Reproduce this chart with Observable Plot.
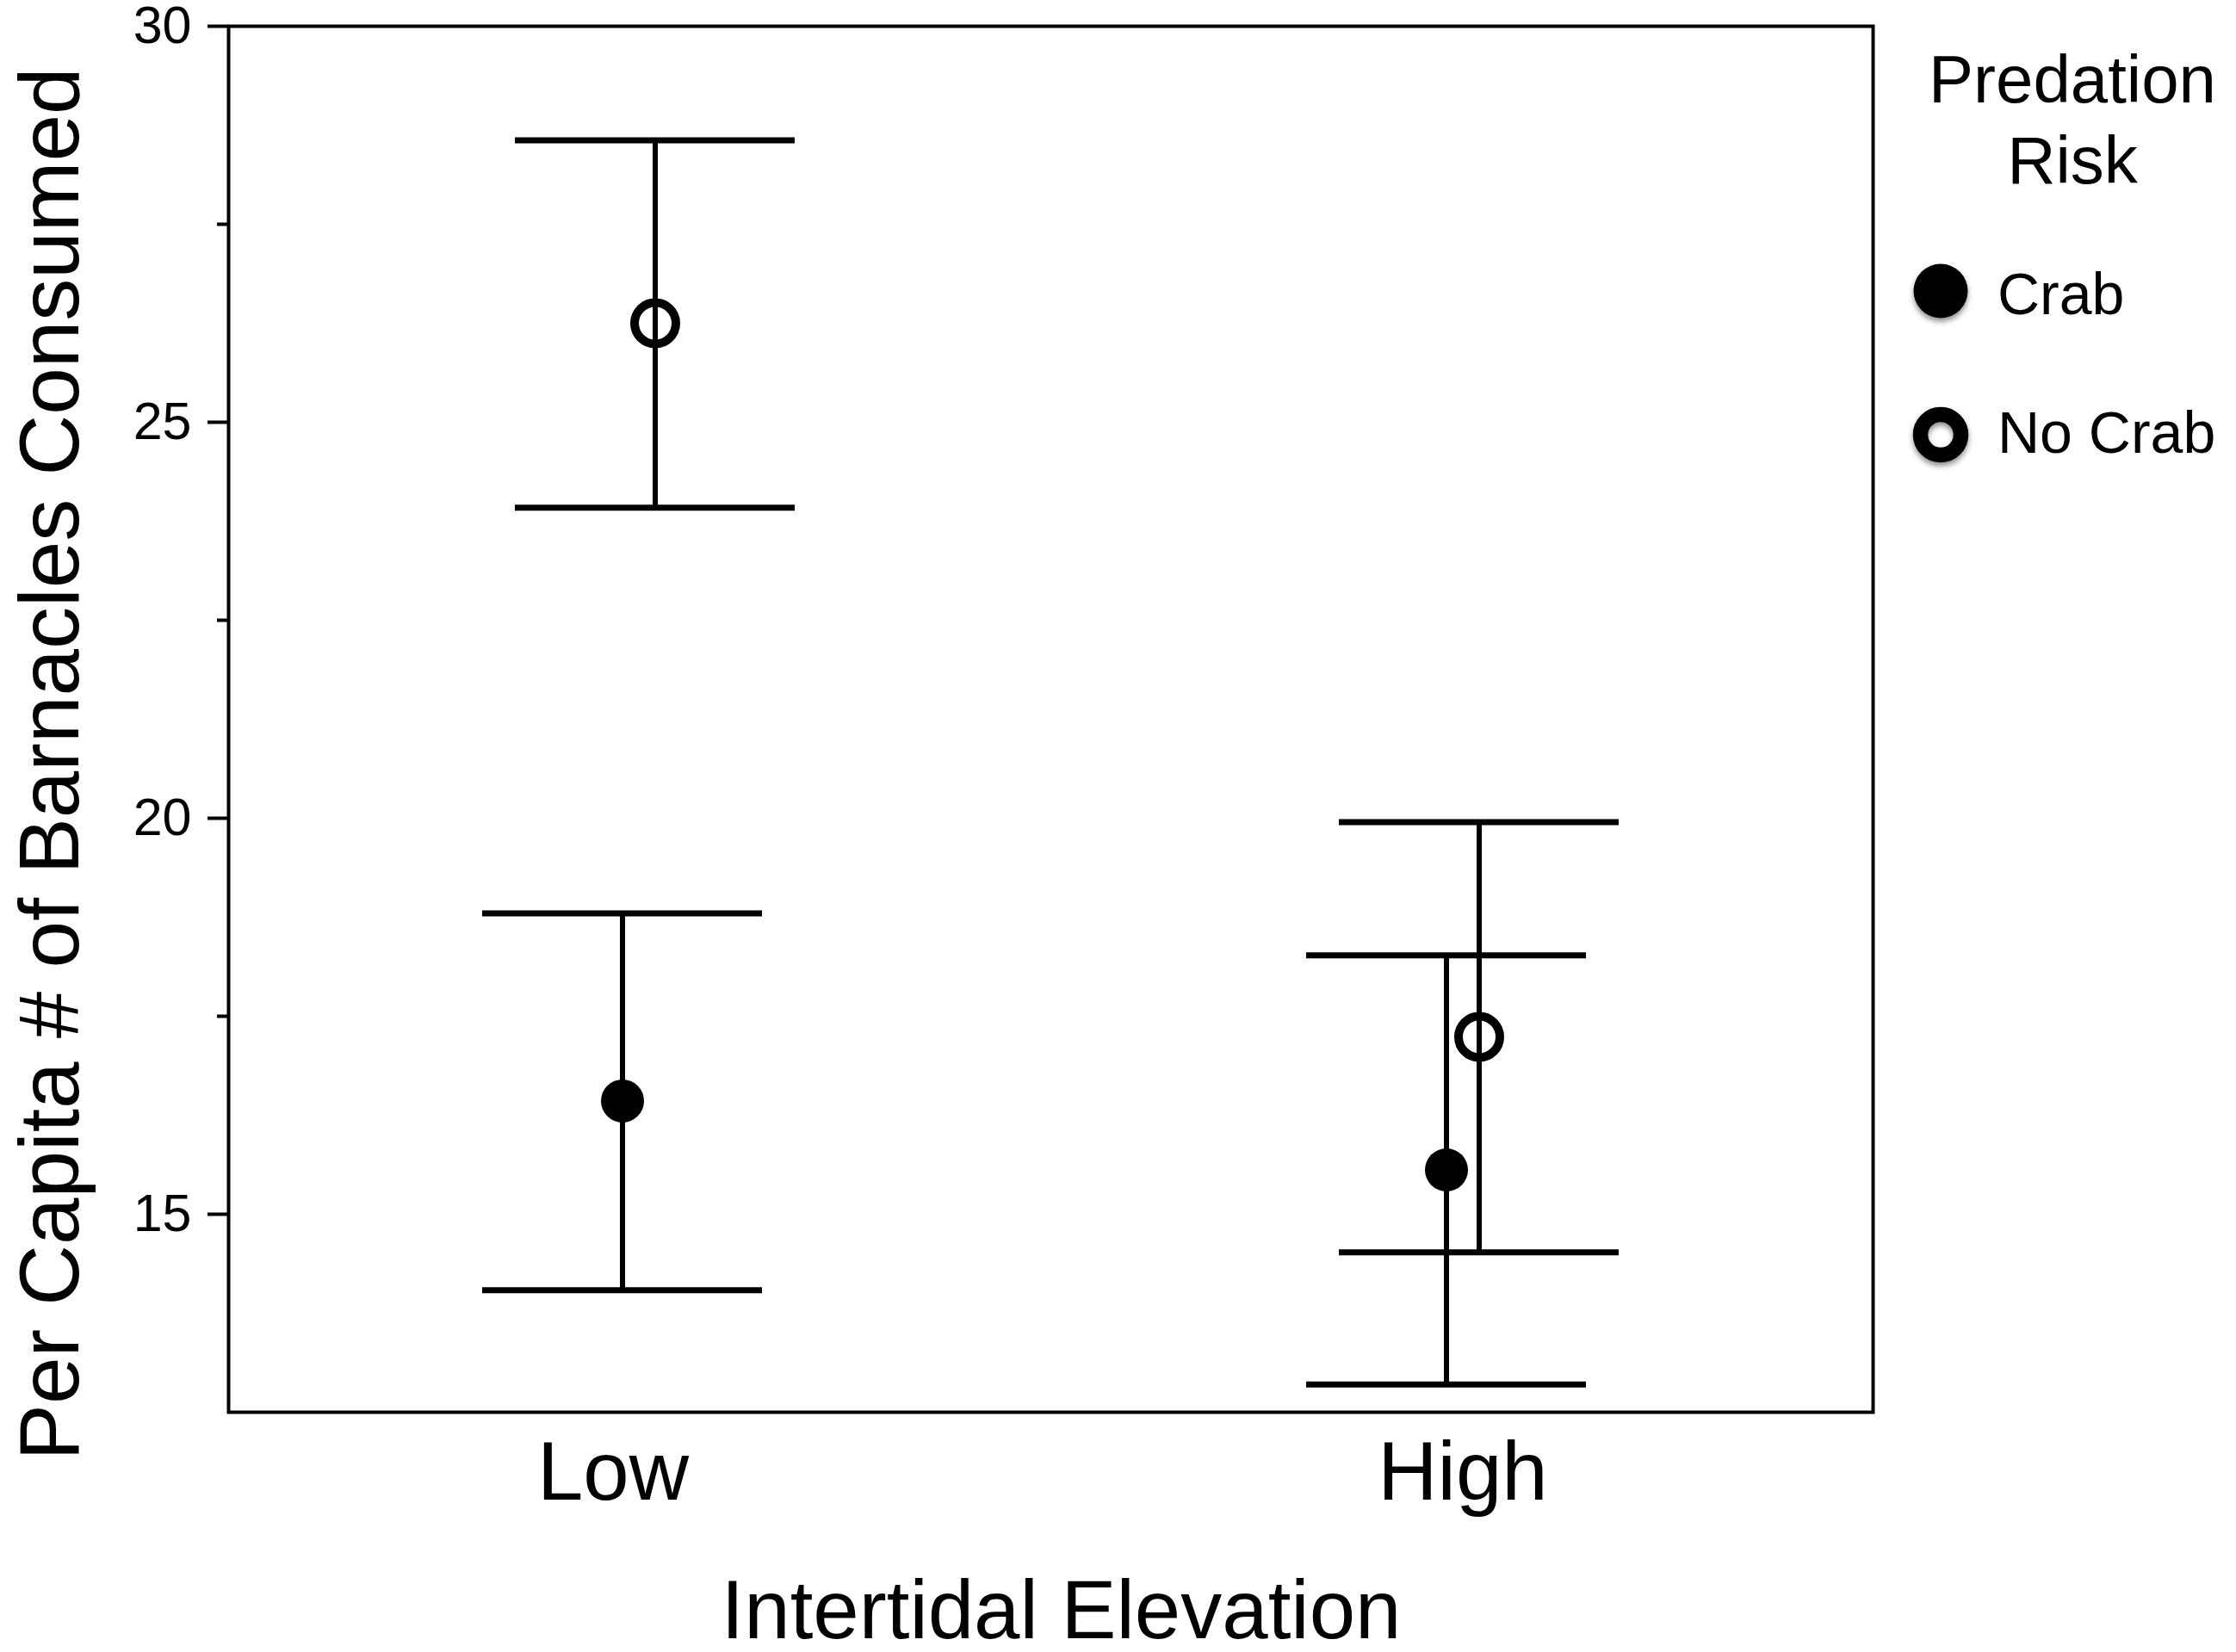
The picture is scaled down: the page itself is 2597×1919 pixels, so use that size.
<!DOCTYPE html>
<html>
<head>
<meta charset="utf-8">
<script src="https://cdn.jsdelivr.net/npm/d3@7"></script>
<script src="https://cdn.jsdelivr.net/npm/@observablehq/plot@0.6"></script>
<style>
  html, body { margin: 0; padding: 0; background: #fff; }
  #wrap { position: relative; width: 2597px; height: 1919px; font-family: "Liberation Sans", Arial, Helvetica, sans-serif; }
  #legend { position: absolute; left: 0; top: 0; pointer-events: none; }
</style>
</head>
<body>
<div id="wrap"></div>
<script>
// ---- data ----
const elevations = ["Low", "High"];
const risks = ["Crab", "No Crab"];
const crabMean  = [16.43, 15.56];
const crabLower = [14.04, 12.85];
const crabUpper = [18.80, 18.27];
const noCrabMean  = [26.25, 17.24];
const noCrabLower = [23.92, 14.52];
const noCrabUpper = [28.56, 19.95];
const yMajorTicks = [15, 20, 25, 30];
const yMinorTicks = [17.5, 22.5, 27.5];
const xTitle = "Intertidal Elevation";
const yTitle = "Per Capita # of Barnacles Consumed";
const legendTitle = ["Predation", "Risk"];

const rows = elevations.flatMap((e, i) => [
  {elev: e, risk: "Crab", mean: crabMean[i], lo: crabLower[i], hi: crabUpper[i]},
  {elev: e, risk: "No Crab", mean: noCrabMean[i], lo: noCrabLower[i], hi: noCrabUpper[i]}
]);

const font = "'Liberation Sans', Arial, Helvetica, sans-serif";
const marks = [];
for (const r of risks) {
  const sub = rows.filter(d => d.risk === r);
  const dx = r === "Crab" ? -19 : 19;
  marks.push(Plot.ruleX(sub, {x: "elev", y1: "lo", y2: "hi", dx, stroke: "black", strokeWidth: 6}));
  marks.push(Plot.tickY(sub, {x: "elev", y: "hi", dx, stroke: "black", strokeWidth: 7}));
  marks.push(Plot.tickY(sub, {x: "elev", y: "lo", dx, stroke: "black", strokeWidth: 7}));
  if (r === "Crab") {
    marks.push(Plot.dot(sub, {x: "elev", y: "mean", dx, r: 25, fill: "black", stroke: "none"}));
  } else {
    marks.push(Plot.dot(sub, {x: "elev", y: "mean", dx, r: 24, fill: "none", stroke: "black", strokeWidth: 10}));
  }
}

const chart = Plot.plot({
  width: 2597,
  height: 1919,
  marginLeft: 265,
  marginRight: 422,
  marginTop: 30,
  marginBottom: 279,
  style: {fontFamily: font, background: "white", color: "black", overflow: "visible"},
  x: {type: "band", domain: elevations, paddingInner: 0.66, paddingOuter: 0.327},
  y: {domain: [12.5, 30]},
  marks: [
    Plot.axisY({ticks: yMajorTicks, tickSize: 24, tickPadding: 19, fontSize: 61, strokeWidth: 4, label: null, stroke: "black", fill: "black"}),
    Plot.axisY({ticks: yMinorTicks, tickSize: 13, strokeWidth: 4, tickFormat: () => "", label: null, stroke: "black"}),
    Plot.axisX({ticks: [elevations[0]], tickSize: 0, tickPadding: 33, fontSize: 96, label: null, fill: "black", dx: -30}),
    Plot.axisX({ticks: [elevations[1]], tickSize: 0, tickPadding: 33, fontSize: 96, label: null, fill: "black"}),
    ...marks,
    Plot.frame({stroke: "black", strokeWidth: 4}),
    Plot.text([xTitle], {text: d => d, frameAnchor: "bottom", dy: 232, dx: 12, fontSize: 96, lineAnchor: "middle", textAnchor: "middle", fill: "black"}),
    Plot.text([yTitle], {text: d => d, frameAnchor: "left", rotate: -90, dx: -206, dy: 52, fontSize: 98, lineAnchor: "middle", textAnchor: "middle", fill: "black"})
  ]
});
document.getElementById("wrap").appendChild(chart);

// ---- legend (right side) ----
const lg = d3.select("#wrap").append("svg")
  .attr("id", "legend")
  .attr("width", 2597).attr("height", 1919)
  .style("font-family", font);
const defs = lg.append("defs");
const f = defs.append("filter").attr("id", "shadow").attr("x", "-50%").attr("y", "-50%").attr("width", "200%").attr("height", "200%");
f.append("feDropShadow").attr("dx", 0).attr("dy", 4).attr("stdDeviation", 3).attr("flood-color", "#000").attr("flood-opacity", 0.45);

lg.selectAll("text.title").data(legendTitle).join("text")
  .attr("class", "title")
  .attr("x", 2407).attr("y", (d, i) => 119 + i * 94)
  .attr("text-anchor", "middle")
  .attr("font-size", 78)
  .text(d => d);

const items = risks.map((r, i) => ({r, cy: [338, 505][i], ty: [365, 526][i]}));
const g = lg.selectAll("g.item").data(items).join("g").attr("class", "item");
g.append("circle")
  .attr("cx", 2254).attr("cy", d => d.cy)
  .attr("r", d => d.r === "Crab" ? 31.5 : 23.5)
  .attr("fill", d => d.r === "Crab" ? "black" : "none")
  .attr("stroke", d => d.r === "Crab" ? "none" : "black")
  .attr("stroke-width", 17.5)
  .attr("filter", "url(#shadow)");
g.append("text")
  .attr("x", 2320).attr("y", d => d.ty)
  .attr("font-size", 68)
  .text(d => d.r);
</script>
</body>
</html>
